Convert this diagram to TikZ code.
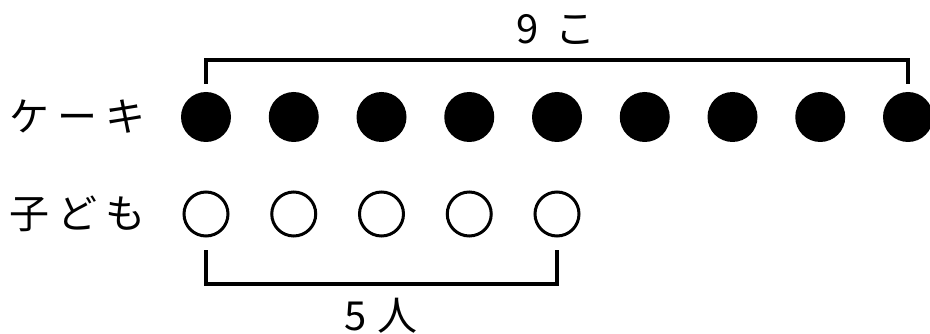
\documentclass[tikz,border=0pt]{standalone}
\usepackage{fontspec}
\newfontfamily\jpfont{Noto Sans CJK JP}
\usetikzlibrary{positioning}
\newcommand\chargap{\hspace{8pt}}

\begin{document}
\begin{tikzpicture}[
  x=1pt, y=-1pt,
  cake/.style={circle, fill=black, minimum size=50pt, inner sep=0pt, outer sep=0pt},
  kid/.style={circle, draw, line width=3pt, minimum size=44pt, inner sep=0pt, outer sep=0pt},
  bracket/.style={line width=3.5pt, line join=miter},
  word/.style={font=\jpfont\fontsize{40}{40}\selectfont, inner sep=0pt}
]
  \useasboundingbox (0,0) rectangle (930,334);

  % row labels
  \node[word, anchor=west] (cakes) at (9,117) {ケ\chargap ー\chargap キ};
  \node[word, anchor=west] (kids) at (9,214) {子\chargap ど\chargap も};

  % cakes
  \node[cake] (c1) at (206,117) {};
  \node[cake, right=37.75pt of c1] (c2) {};
  \node[cake, right=37.75pt of c2] (c3) {};
  \node[cake, right=37.75pt of c3] (c4) {};
  \node[cake, right=37.75pt of c4] (c5) {};
  \node[cake, right=37.75pt of c5] (c6) {};
  \node[cake, right=37.75pt of c6] (c7) {};
  \node[cake, right=37.75pt of c7] (c8) {};
  \node[cake, right=37.75pt of c8] (c9) {};

  % children
  \node[kid] (k1) at (206,214) {};
  \node[kid, right=43.75pt of k1] (k2) {};
  \node[kid, right=43.75pt of k2] (k3) {};
  \node[kid, right=43.75pt of k3] (k4) {};
  \node[kid, right=43.75pt of k4] (k5) {};

  % brackets
  \draw[bracket] ([yshift=8pt]c1.north) -- ++(0,-24) -| ([yshift=8pt]c9.north);
  \draw[bracket] ([yshift=-14pt]k1.south) -- ++(0,34) -| ([yshift=-14pt]k5.south);

  \node[word] (nine) at (556,29) {9\hspace{16pt}こ};
  \node[word] (five) at (381,316) {5\hspace{10pt}人};
\end{tikzpicture}
\end{document}
